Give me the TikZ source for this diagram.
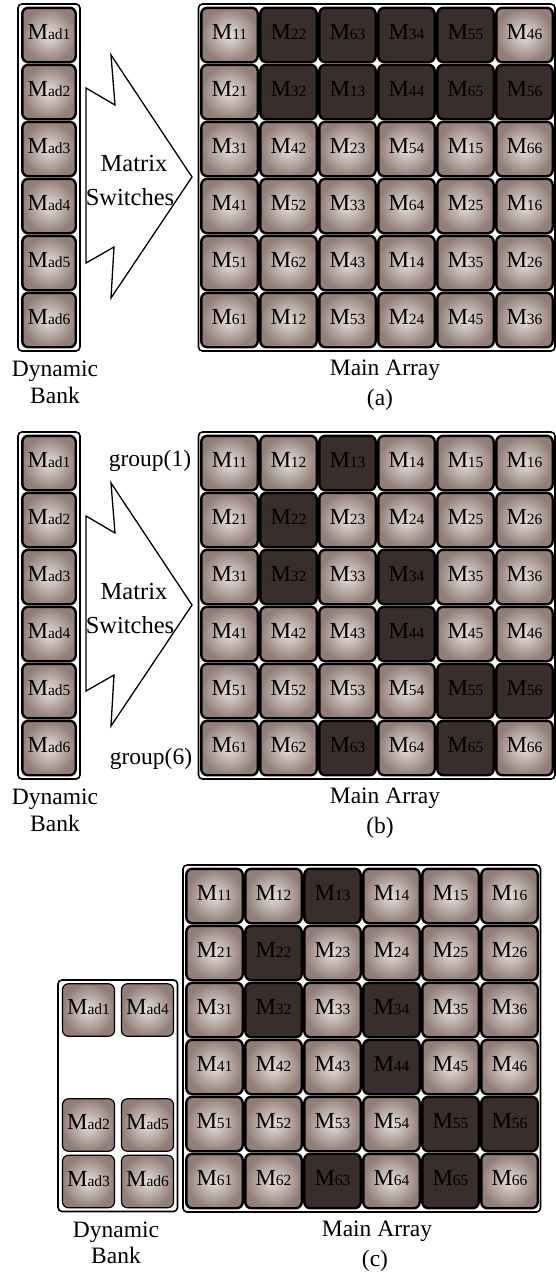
\documentclass[tikz,border=0pt]{standalone}
\usepackage{fontspec}
\setmainfont{Liberation Serif}
\definecolor{cin}{RGB}{230,223,220}
\definecolor{cout}{RGB}{146,126,120}
\definecolor{cdark}{RGB}{56,46,43}
\newcommand\sm[1]{{\fontsize{15.5}{15.5}\selectfont #1}}
\newcommand\mkdark[1]{\expandafter\def\csname dk#1\endcsname{}}
\mkdark{13}\mkdark{22}\mkdark{32}\mkdark{34}\mkdark{44}\mkdark{55}\mkdark{56}\mkdark{63}\mkdark{65}
\tikzset{
  cellbase/.style={draw=black, line width=2.4pt, rounded corners=6pt,
    minimum width=56.4pt, minimum height=54.4pt, inner sep=0pt, text depth=6pt,
    font=\fontsize{23}{23}\selectfont},
  celllight/.style={cellbase, inner color=cin, outer color=cout},
  celldark/.style={cellbase, fill=cdark},
  bankcell/.style={celllight, minimum width=53.4pt},
  bankcellc/.style={celllight, line width=1.2pt, minimum width=52pt, minimum height=52.5pt},
  frame/.style={draw=black, fill=white, line width=1.6pt, rounded corners=4pt},
  arrowshape/.style={draw=black, fill=white, line width=1.3pt, line join=miter},
  lbl/.style={font=\fontsize{23.5}{23.5}\selectfont, anchor=base, inner sep=0pt},
  arrlbl/.style={font=\fontsize{24.5}{24.5}\selectfont, anchor=base, inner sep=0pt},
}
\begin{document}
\begin{tikzpicture}[x=1pt,y=-1pt]
\useasboundingbox (0,0) rectangle (556,1274);

% ---------------- (a) ----------------
\draw[frame] (18,4) rectangle (80,351);
\draw[frame] (198.5,4) rectangle (555,351);
\draw[arrowshape] (86,88) -- (115,105) -- (111,55) -- (192,177) -- (111,298) -- (114,247) -- (86,263) -- cycle;
\node[arrlbl] (swA1) at (134,171) {Matrix};
\node[arrlbl] (swA2) at (130,205) {Switches};
\foreach \i in {1,...,6}{
  \node[bankcell] (Aad\i) at (49,{35+57*(\i-1)}) {M\sm{ad\i}};
}
\def\labsA{11,22,63,34,55,46,21,32,13,44,65,56,31,42,23,54,15,66,41,52,33,64,25,16,51,62,43,14,35,26,61,12,53,24,45,36}
\foreach \lab [count=\k from 0] in \labsA {
  \pgfmathtruncatemacro\r{floor(\k/6)}
  \pgfmathtruncatemacro\c{\k-6*\r}
  \ifcsname dk\lab\endcsname\tikzset{cur/.style={celldark}}\else\tikzset{cur/.style={celllight}}\fi
  \node[cur] (A\lab) at ({229.5+59*\c},{35+57*\r}) {M\sm{\lab}};
}
\node[lbl] (dynA) at (55,376) {Dynamic};
\node[lbl] (bankA) at (55,403) {Bank};
\node[lbl] (mainA) at (385,375) {Main Array};
\node[lbl] (capA) at (380,405) {(a)};

% ---------------- (b) ----------------
\begin{scope}[yshift=-428pt]
\draw[frame] (18,4) rectangle (80,351);
\draw[frame] (198.5,4) rectangle (555,351);
\draw[arrowshape] (86,88) -- (115,105) -- (111,55) -- (192,177) -- (111,298) -- (114,247) -- (86,263) -- cycle;
\node[arrlbl] (swB1) at (134,171) {Matrix};
\node[arrlbl] (swB2) at (130,205) {Switches};
\foreach \i in {1,...,6}{
  \node[bankcell] (Bad\i) at (49,{35+57*(\i-1)}) {M\sm{ad\i}};
}
\foreach \r in {1,...,6}{
  \foreach \c in {1,...,6}{
    \ifcsname dk\r\c\endcsname\tikzset{cur/.style={celldark}}\else\tikzset{cur/.style={celllight}}\fi
    \node[cur] (B\r\c) at ({229.5+59*(\c-1)},{35+57*(\r-1)}) {M\sm{\r\c}};
  }
}
\node[lbl] (grp1) at (150,38) {group(1)};
\node[lbl] (grp6) at (151,336) {group(6)};
\node[lbl] (dynB) at (55,376) {Dynamic};
\node[lbl] (bankB) at (55,403) {Bank};
\node[lbl] (mainB) at (385,375) {Main Array};
\node[lbl] (capB) at (380,405) {(b)};
\end{scope}

% ---------------- (c) ----------------
\draw[frame] (58,980) rectangle (177.5,1211.5);
\draw[frame] (183,865) rectangle (540.5,1212);
\node[bankcellc] (Cad1) at (88.5,1010) {M\sm{ad1}};
\node[bankcellc] (Cad4) at (147.5,1010) {M\sm{ad4}};
\node[bankcellc] (Cad2) at (88.5,1125) {M\sm{ad2}};
\node[bankcellc] (Cad5) at (147.5,1125) {M\sm{ad5}};
\node[bankcellc] (Cad3) at (88.5,1181.5) {M\sm{ad3}};
\node[bankcellc] (Cad6) at (147.5,1181.5) {M\sm{ad6}};
\foreach \r in {1,...,6}{
  \foreach \c in {1,...,6}{
    \ifcsname dk\r\c\endcsname\tikzset{cur/.style={celldark}}\else\tikzset{cur/.style={celllight}}\fi
    \node[cur] (C\r\c) at ({214.5+59*(\c-1)},{896+57*(\r-1)}) {M\sm{\r\c}};
  }
}
\node[lbl] (dynC) at (116,1237) {Dynamic};
\node[lbl] (bankC) at (116,1263) {Bank};
\node[lbl] (mainC) at (377,1236) {Main Array};
\node[lbl] (capC) at (375,1266) {(c)};
\end{tikzpicture}
\end{document}
